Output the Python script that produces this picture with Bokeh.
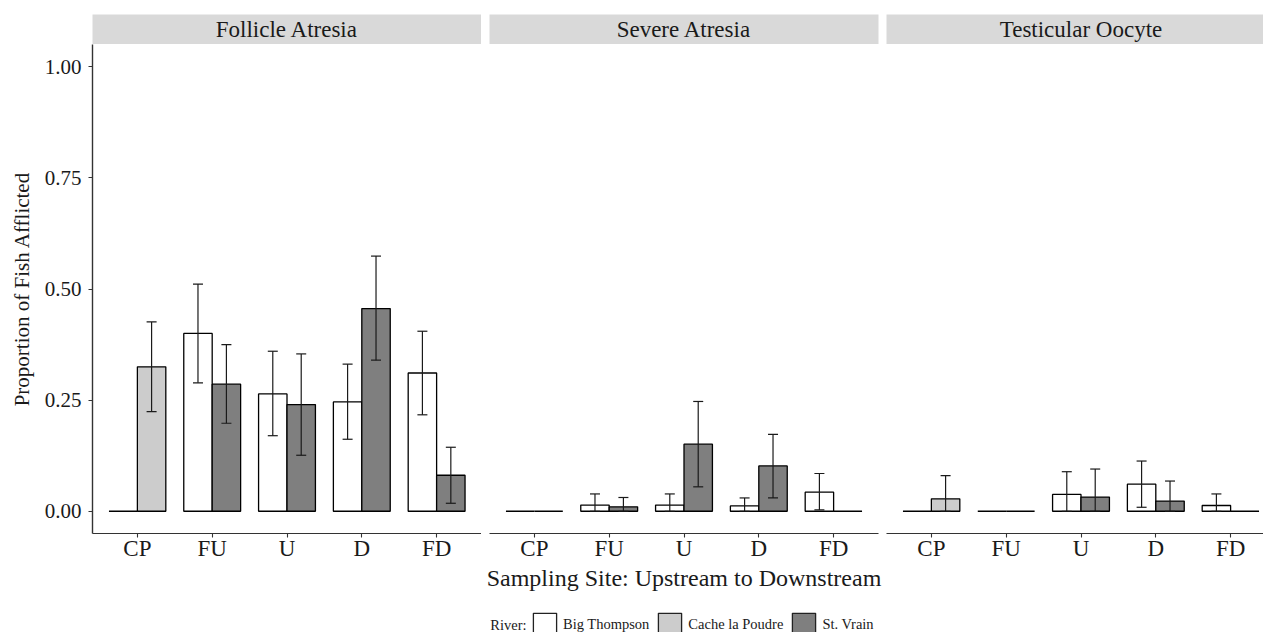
import math
import pandas as pd
from bokeh.plotting import figure
from bokeh.models import (ColumnDataSource, Range1d, FixedTicker, Whisker, TeeHead,
                          Legend, LegendItem, CDSView, GroupFilter, Label)
from bokeh.layouts import column, row
from bokeh.embed import file_html
from bokeh.resources import INLINE
from bokeh.core.properties import value

# ---------------- data ----------------
panels = ["Follicle Atresia", "Severe Atresia", "Testicular Oocyte"]
sites = ["CP", "FU", "U", "D", "FD"]
rivers = ["Big Thompson", "Cache la Poudre", "St. Vrain"]
river_fill = ["#FFFFFF", "#CCCCCC", "#7F7F7F"]
y_ticks = [0.0, 0.25, 0.50, 0.75, 1.00]
y_tick_labels = ["0.00", "0.25", "0.50", "0.75", "1.00"]
x_title = "Sampling Site: Upstream to Downstream"
y_title = "Proportion of Fish Afflicted"
legend_title = "River:"

bar_panel = [panels[0]] * 10 + [panels[1]] * 10 + [panels[2]] * 10
bar_site = ["CP", "CP", "FU", "FU", "U", "U", "D", "D", "FD", "FD"] * 3
bar_river = (["Big Thompson", "Cache la Poudre"] + ["Big Thompson", "St. Vrain"] * 4) * 3
bar_mean = [0.000, 0.325, 0.400, 0.286, 0.264, 0.240, 0.246, 0.456, 0.311, 0.081,
            0.000, 0.000, 0.014, 0.010, 0.014, 0.151, 0.012, 0.102, 0.043, 0.000,
            0.000, 0.028, 0.000, 0.000, 0.038, 0.032, 0.061, 0.023, 0.013, 0.000]
bar_lower = [None, 0.224, 0.289, 0.198, 0.170, 0.126, 0.162, 0.340, 0.217, 0.018,
             None, None, 0.000, 0.000, 0.000, 0.055, 0.000, 0.030, 0.003, None,
             None, 0.000, None, None, 0.000, 0.000, 0.009, 0.000, 0.000, None]
bar_upper = [None, 0.426, 0.511, 0.375, 0.360, 0.354, 0.331, 0.574, 0.405, 0.144,
             None, None, 0.039, 0.031, 0.039, 0.247, 0.030, 0.173, 0.085, None,
             None, 0.080, None, None, 0.089, 0.095, 0.113, 0.068, 0.039, None]

# ---------------- style / layout ----------------
FONT = "Liberation Serif"
INK = "#1A1A1A"
LEFT = [92, 8, 4]
RIGHT = [0, 4, 0]
FRAME_W = [389, 389, 377]
UNIT_PX = 389 / 5.2
X0 = 0.4
BAR_W = 0.38
STRIP_TOP, STRIP_H = 14, 30
FRAME_H, BOTTOM = 489, 60
TOTAL_W, TOTAL_H = 1263, 632
FOOT_H = TOTAL_H - (STRIP_TOP + STRIP_H) - FRAME_H - BOTTOM

df = pd.DataFrame({"panel": bar_panel, "site": bar_site, "river": bar_river,
                   "mean": bar_mean,
                   "lo": [math.nan if v is None else v for v in bar_lower],
                   "hi": [math.nan if v is None else v for v in bar_upper]})
site_pos = {s: i + 1 for i, s in enumerate(sites)}
df["x"] = df["site"].map(site_pos) + df["river"].map(
    lambda r: -BAR_W / 2 if r == rivers[0] else BAR_W / 2)

strips, figs = [], []
for i, panel in enumerate(panels):
    x_end = X0 + FRAME_W[i] / UNIT_PX
    w = LEFT[i] + FRAME_W[i] + RIGHT[i]

    # strip header
    s = figure(width=w, height=STRIP_TOP + STRIP_H, x_range=Range1d(X0, x_end),
               y_range=Range1d(0, 1), toolbar_location=None, output_backend="svg",
               x_axis_location=None, y_axis_location=None,
               min_border_left=LEFT[i], min_border_right=RIGHT[i],
               min_border_top=STRIP_TOP, min_border_bottom=0)
    s.background_fill_color = "#D9D9D9"
    s.border_fill_color = "white"
    s.outline_line_color = None
    s.grid.visible = False
    s.text(x=[(1 + len(sites)) / 2], y=[0.5], text=[panel], text_align="center",
           text_baseline="middle", text_font=value(FONT), text_font_size="23px",
           text_color=INK)
    strips.append(s)

    # panel
    p = figure(width=w, height=FRAME_H + BOTTOM, x_range=Range1d(X0, x_end),
               y_range=Range1d(-0.05, 1.05), toolbar_location=None, output_backend="svg",
               y_axis_location="left" if i == 0 else None,
               min_border_left=LEFT[i], min_border_right=RIGHT[i],
               min_border_top=0, min_border_bottom=BOTTOM)
    p.outline_line_color = None
    p.grid.visible = False
    p.background_fill_color = "white"

    sub = df[df["panel"] == panel].reset_index(drop=True)
    src = ColumnDataSource(sub)
    for r, c in zip(rivers, river_fill):
        view = CDSView(filter=GroupFilter(column_name="river", group=r))
        p.vbar(x="x", top="mean", bottom=0, width=BAR_W, source=src, view=view,
               fill_color=c, line_color="black", line_width=1.3)

    err = sub.dropna(subset=["lo", "hi"]).reset_index(drop=True)
    esrc = ColumnDataSource(err)
    wk = Whisker(base="x", lower="lo", upper="hi", source=esrc, line_color=INK,
                 line_width=1.2, level="overlay",
                 upper_head=TeeHead(size=10, line_color=INK, line_width=1.2),
                 lower_head=TeeHead(size=10, line_color=INK, line_width=1.2))
    p.add_layout(wk)

    ax = p.xaxis[0]
    ax.ticker = FixedTicker(ticks=[site_pos[s_] for s_ in sites])
    ax.major_label_overrides = {site_pos[s_]: s_ for s_ in sites}
    ax.minor_tick_line_color = None
    ax.major_tick_in = 0
    ax.major_tick_out = 4
    ax.major_label_standoff = -2
    ax.axis_line_color = "#333333"
    ax.axis_line_width = 1.2
    ax.major_tick_line_color = "#333333"
    ax.major_tick_line_width = 1.1
    ax.major_label_text_font = FONT
    ax.major_label_text_font_size = "23px"
    ax.major_label_text_color = INK
    if i == 1:
        ax.axis_label = x_title
        ax.axis_label_text_font = FONT
        ax.axis_label_text_font_size = "24px"
        ax.axis_label_text_font_style = "normal"
        ax.axis_label_text_color = INK
        ax.axis_label_standoff = 1

    if i == 0:
        ay = p.yaxis[0]
        ay.ticker = FixedTicker(ticks=y_ticks)
        ay.major_label_overrides = dict(zip(y_ticks, y_tick_labels))
        ay.minor_tick_line_color = None
        ay.major_tick_in = 0
        ay.major_tick_out = 4
        ay.major_label_standoff = 7
        ay.axis_line_color = "#333333"
        ay.axis_line_width = 1.4
        ay.major_tick_line_color = "#333333"
        ay.major_tick_line_width = 1.1
        ay.major_label_text_font = FONT
        ay.major_label_text_font_size = "21px"
        ay.major_label_text_color = INK
        ay.axis_label = y_title
        ay.axis_label_text_font = FONT
        ay.axis_label_text_font_size = "21px"
        ay.axis_label_text_font_style = "normal"
        ay.axis_label_text_color = INK
        ay.axis_label_standoff = 8

    figs.append(p)

# footer holding the legend; its renderers use the real data but are muted
# to full transparency, so only their legend swatches show
foot = figure(width=TOTAL_W, height=FOOT_H, x_range=Range1d(X0, X0 + 5.2),
              y_range=Range1d(-0.05, 1.05), toolbar_location=None, output_backend="svg",
              x_axis_location=None, y_axis_location=None,
              min_border_left=0, min_border_right=0, min_border_top=0, min_border_bottom=0)
foot.outline_line_color = None
foot.grid.visible = False
fsrc = ColumnDataSource(df)
items = []
for r, c in zip(rivers, river_fill):
    view = CDSView(filter=GroupFilter(column_name="river", group=r))
    rr = foot.vbar(x="x", top="mean", bottom=0, width=BAR_W, source=fsrc, view=view,
                   fill_color=c, line_color="#222222", line_width=1.3,
                   muted_fill_alpha=0, muted_line_alpha=0)
    rr.muted = True
    items.append(LegendItem(label=r, renderers=[rr]))

legend = Legend(items=items, orientation="horizontal", location=(530, -6),
                click_policy="none",
                label_text_font=FONT, label_text_font_size="14.5px", label_text_color=INK,
                glyph_width=29, glyph_height=28, label_height=28, label_standoff=4,
                spacing=6, padding=0, margin=0, border_line_color=None,
                background_fill_alpha=0)
foot.add_layout(legend, "center")
foot.add_layout(Label(x=526, y=8, x_units="screen", y_units="screen", text=legend_title,
                      text_align="right", text_baseline="middle", text_font=FONT,
                      text_font_size="14.5px", text_color=INK))

layout = column(row(*strips, spacing=0), row(*figs, spacing=0), foot, spacing=0)
open("out.html", "w").write(file_html(layout, INLINE))
